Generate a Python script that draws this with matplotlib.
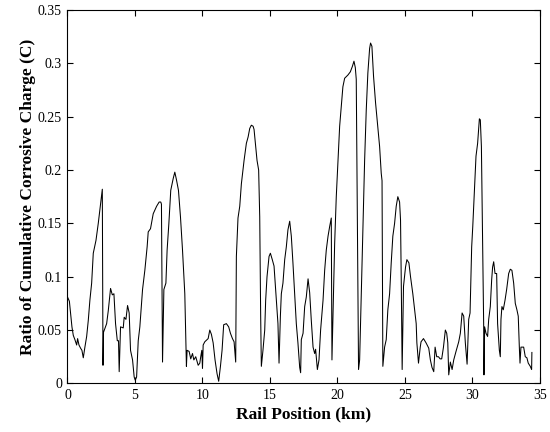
import matplotlib

matplotlib.use("Agg")
import matplotlib.pyplot as plt
from matplotlib.ticker import FuncFormatter

# Rail position (km) and ratio of cumulative corrosive charge
position_km = [
    0.00, 0.14, 0.23, 0.33, 0.43, 0.55, 0.68, 0.75, 0.85, 0.97, 1.07, 1.17, 1.29,
    1.42, 1.54, 1.66, 1.79, 1.91, 2.11, 2.28, 2.40, 2.58, 2.63, 2.67, 2.90, 3.02,
    3.19, 3.32, 3.44, 3.56, 3.69, 3.78, 3.83, 3.93, 4.13, 4.20, 4.33, 4.45, 4.57,
    4.67, 4.82, 4.94, 5.02, 5.12, 5.24, 5.36, 5.56, 5.73, 5.90, 5.98, 6.15, 6.35,
    6.60, 6.79, 6.91, 6.96, 7.04, 7.14, 7.29, 7.38, 7.51, 7.65, 7.83, 7.95, 8.07,
    8.22, 8.37, 8.52, 8.69, 8.81, 8.86, 9.01, 9.13, 9.26, 9.36, 9.50, 9.68, 9.80,
    9.87, 9.95, 10.00, 10.05, 10.17, 10.42, 10.54, 10.66, 10.79, 10.93, 11.08,
    11.20, 11.33, 11.45, 11.57, 11.77, 11.94, 12.07, 12.22, 12.34, 12.46, 12.51,
    12.63, 12.76, 12.88, 13.08, 13.25, 13.38, 13.50, 13.62, 13.75, 13.82, 13.92,
    14.04, 14.16, 14.24, 14.31, 14.36, 14.48, 14.61, 14.68, 14.78, 14.93, 15.03,
    15.17, 15.30, 15.42, 15.59, 15.67, 15.77, 15.84, 15.96, 16.09, 16.21, 16.33,
    16.46, 16.58, 16.70, 16.83, 16.95, 17.07, 17.20, 17.27, 17.32, 17.45, 17.57,
    17.69, 17.82, 17.94, 18.06, 18.19, 18.31, 18.38, 18.51, 18.63, 18.75, 18.93,
    19.05, 19.17, 19.30, 19.42, 19.54, 19.59, 19.67, 19.79, 19.91, 20.04, 20.16,
    20.28, 20.40, 20.53, 20.77, 20.95, 21.10, 21.22, 21.32, 21.39, 21.49, 21.56,
    21.64, 21.76, 21.88, 22.01, 22.13, 22.25, 22.38, 22.45, 22.55, 22.67, 22.82,
    22.94, 23.12, 23.24, 23.30, 23.36, 23.49, 23.61, 23.73, 23.86, 23.98, 24.10,
    24.23, 24.35, 24.47, 24.60, 24.67, 24.72, 24.79, 24.89, 25.04, 25.14, 25.29,
    25.41, 25.58, 25.71, 25.83, 25.88, 26.00, 26.13, 26.19, 26.37, 26.56, 26.76,
    26.88, 27.00, 27.13, 27.23, 27.35, 27.48, 27.60, 27.72, 27.85, 27.99, 28.09,
    28.17, 28.24, 28.36, 28.49, 28.61, 28.78, 28.98, 29.10, 29.23, 29.35, 29.47,
    29.60, 29.72, 29.82, 29.94, 30.02, 30.14, 30.26, 30.38, 30.51, 30.58, 30.66,
    30.75, 30.83, 30.85, 30.90, 31.00, 31.12, 31.20, 31.32, 31.42, 31.49, 31.57,
    31.67, 31.79, 31.86, 31.99, 32.06, 32.11, 32.18, 32.28, 32.41, 32.53, 32.68,
    32.80, 32.92, 33.05, 33.17, 33.29, 33.39, 33.47, 33.52, 33.59, 33.79, 33.91,
    34.03, 34.13, 34.28, 34.38, 34.40,
]
charge_ratio = [
    0.081, 0.077, 0.066, 0.053, 0.045, 0.041, 0.036, 0.042, 0.036, 0.033, 0.031,
    0.024, 0.034, 0.044, 0.059, 0.078, 0.094, 0.122, 0.134, 0.150, 0.163, 0.182,
    0.017, 0.048, 0.056, 0.068, 0.089, 0.083, 0.084, 0.056, 0.040, 0.040, 0.011,
    0.053, 0.052, 0.062, 0.060, 0.073, 0.066, 0.031, 0.022, 0.006, 0.003, 0.006,
    0.040, 0.053, 0.088, 0.106, 0.128, 0.142, 0.145, 0.159, 0.166, 0.170, 0.170,
    0.168, 0.020, 0.088, 0.094, 0.125, 0.150, 0.181, 0.192, 0.198, 0.191, 0.181,
    0.156, 0.125, 0.084, 0.016, 0.031, 0.030, 0.023, 0.028, 0.022, 0.025, 0.017,
    0.019, 0.025, 0.031, 0.014, 0.036, 0.039, 0.042, 0.050, 0.046, 0.038, 0.022,
    0.009, 0.002, 0.016, 0.031, 0.055, 0.056, 0.053, 0.047, 0.042, 0.039, 0.020,
    0.119, 0.155, 0.166, 0.187, 0.209, 0.225, 0.231, 0.239, 0.242, 0.241, 0.238,
    0.225, 0.209, 0.200, 0.156, 0.063, 0.016, 0.031, 0.050, 0.078, 0.100, 0.119,
    0.122, 0.116, 0.110, 0.088, 0.056, 0.019, 0.063, 0.084, 0.094, 0.116, 0.128,
    0.144, 0.152, 0.138, 0.113, 0.084, 0.056, 0.038, 0.015, 0.010, 0.041, 0.047,
    0.072, 0.081, 0.098, 0.085, 0.059, 0.034, 0.028, 0.032, 0.013, 0.022, 0.050,
    0.078, 0.106, 0.125, 0.138, 0.147, 0.155, 0.022, 0.066, 0.131, 0.175, 0.209,
    0.241, 0.259, 0.278, 0.286, 0.289, 0.292, 0.297, 0.302, 0.296, 0.285, 0.131,
    0.013, 0.022, 0.084, 0.147, 0.209, 0.256, 0.291, 0.314, 0.319, 0.316, 0.288,
    0.263, 0.247, 0.222, 0.197, 0.190, 0.016, 0.034, 0.041, 0.069, 0.084, 0.113,
    0.138, 0.150, 0.166, 0.175, 0.170, 0.153, 0.100, 0.013, 0.091, 0.109, 0.116,
    0.113, 0.100, 0.084, 0.069, 0.056, 0.038, 0.019, 0.034, 0.039, 0.042, 0.038,
    0.033, 0.022, 0.015, 0.011, 0.034, 0.025, 0.025, 0.023, 0.023, 0.034, 0.050,
    0.047, 0.038, 0.008, 0.020, 0.013, 0.022, 0.030, 0.039, 0.047, 0.066, 0.063,
    0.038, 0.018, 0.060, 0.066, 0.128, 0.147, 0.181, 0.213, 0.225, 0.248, 0.247,
    0.222, 0.128, 0.053, 0.008, 0.053, 0.047, 0.044, 0.060, 0.072, 0.097, 0.109,
    0.114, 0.103, 0.103, 0.056, 0.031, 0.025, 0.060, 0.072, 0.069, 0.078, 0.088,
    0.103, 0.107, 0.106, 0.094, 0.075, 0.069, 0.063, 0.034, 0.019, 0.034, 0.034,
    0.025, 0.024, 0.019, 0.016, 0.013, 0.029,
]

x_ticks = [0, 5, 10, 15, 20, 25, 30, 35]
y_ticks = [0, 0.05, 0.1, 0.15, 0.2, 0.25, 0.3, 0.35]

plt.rcParams["font.family"] = "Liberation Serif"

fig = plt.figure(figsize=(5.5, 4.32), dpi=100)
ax = fig.add_axes([0.1227, 0.1125, 0.8591, 0.8644])

ax.plot(position_km, charge_ratio, color="black", linewidth=0.75)

ax.set_xlim(0, 35)
ax.set_ylim(0, 0.35)
ax.set_xticks(x_ticks)
ax.set_yticks(y_ticks)
ax.yaxis.set_major_formatter(FuncFormatter(lambda v, _: f"{v:g}"))
ax.tick_params(direction="in", top=True, right=True, length=4, width=0.8,
               labelsize=10, pad=4)
for spine in ax.spines.values():
    spine.set_linewidth(0.8)

ax.set_xlabel("Rail Position (km)", fontsize=12.5, fontweight="bold", labelpad=3)
ax.set_ylabel("Ratio of Cumulative Corrosive Charge (C)", fontsize=12.5,
              fontweight="bold", labelpad=1)

fig.savefig("out.png", dpi=100)
